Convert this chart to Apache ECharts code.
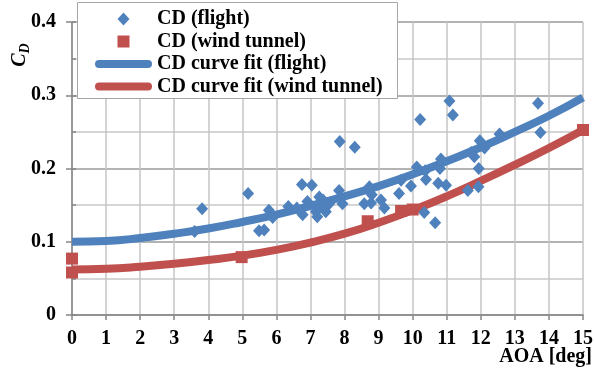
<!DOCTYPE html>
<html>
<head>
<meta charset="utf-8">
<script src="https://cdn.jsdelivr.net/npm/echarts@6/dist/echarts.min.js"></script>
<style>html,body{margin:0;padding:0;background:#fff}#c{width:594px;height:374px}</style>
</head>
<body>
<div id="c"></div>
<script>
// Flight-test CD points: [AOA deg, CD]
const flightAOA = [3.60,3.82,5.17,5.49,5.64,5.78,5.89,6.35,6.75,7.04,6.60,6.77,6.91,7.16,7.20,7.26,7.37,7.45,7.30,7.55,7.84,7.86,7.94,8.30,8.58,8.73,8.80,8.78,9.07,9.17,9.60,9.66,9.95,10.12,10.22,10.34,10.37,10.39,10.66,10.75,10.80,10.83,10.98,11.08,11.18,11.62,11.72,11.81,11.93,11.94,11.97,12.11,12.55,13.68,13.75];
const flightCD  = [0.114,0.145,0.166,0.115,0.116,0.143,0.133,0.148,0.178,0.177,0.146,0.137,0.155,0.141,0.134,0.161,0.157,0.141,0.148,0.152,0.170,0.237,0.152,0.229,0.152,0.175,0.164,0.153,0.157,0.146,0.166,0.184,0.176,0.202,0.267,0.140,0.197,0.185,0.126,0.180,0.200,0.213,0.177,0.292,0.273,0.170,0.222,0.216,0.175,0.200,0.238,0.228,0.247,0.289,0.249];
// Wind-tunnel CD points
const tunnelAOA = [0,0,4.98,8.68,9.66,10.0,15];
const tunnelCD  = [0.077,0.058,0.079,0.128,0.142,0.144,0.2526];
// Curve fits read at integer AOA
const fitAOA = [0,1,2,3,4,5,6,7,8,9,10,11,12,13,14,15];
const fitFlight = [0.100,0.101,0.105,0.111,0.118,0.127,0.137,0.149,0.162,0.176,0.192,0.210,0.229,0.250,0.272,0.297];
const fitTunnel = [0.062,0.063,0.066,0.070,0.075,0.081,0.089,0.099,0.111,0.126,0.143,0.162,0.183,0.205,0.228,0.2526];

const seriesNames = ['CD (flight)','CD (wind tunnel)','CD curve fit (flight)','CD curve fit (wind tunnel)'];
const xTicks = [0,15,1];
const yTicks = [0,0.4,0.1];

const zip = (a,b) => a.map((v,i)=>[v,b[i]]);
const BLUE = '#4F81BD', RED = '#C0504D';
const FONT = 'Liberation Serif';
// legend icons padded to the full 57x13 item box so they are not stretched
const BOX = 'M0,0 L0.01,0 M57,13 L56.99,13 ';
const diamondIcon = 'path://' + BOX + 'M28.5,0 L34.5,6.5 L28.5,13 L22.5,6.5 Z';
const squareIcon  = 'path://' + BOX + 'M22.5,0.5 L34.5,0.5 L34.5,12.5 L22.5,12.5 Z';
const lineIcon    = 'path://' + BOX + 'M4,2.5 L53,2.5 A4,4 0 0 1 53,10.5 L4,10.5 A4,4 0 0 1 4,2.5 Z';

const chart = echarts.init(document.getElementById('c'), null, {renderer:'canvas'});
chart.setOption({
  animation:false,
  backgroundColor:'#fff',
  grid:{left:72, right:11, top:22, bottom:59, containLabel:false, outerBoundsMode:'none'},
  xAxis:{
    type:'value', min:xTicks[0], max:xTicks[1], interval:xTicks[2],
    name:'AOA [deg]', nameLocation:'end', nameGap:9, nameMoveOverlap:false,
    nameTextStyle:{fontFamily:FONT, fontWeight:'bold', fontSize:20, color:'#000', align:'right', verticalAlign:'top', padding:[32,0,0,0]},
    axisLine:{show:true, onZero:false, lineStyle:{color:'#868686', width:1.5}},
    axisTick:{show:true, length:5, lineStyle:{color:'#868686', width:1.5}},
    axisLabel:{fontFamily:FONT, fontWeight:'bold', fontSize:20, color:'#000', margin:14},
    splitLine:{show:true, lineStyle:{color:'#c4c4c4', width:1.5}}
  },
  yAxis:[{
    type:'value', min:yTicks[0], max:yTicks[1], interval:yTicks[2],
    axisLine:{show:true, onZero:false, lineStyle:{color:'#868686', width:1.5}},
    axisTick:{show:true, length:6, lineStyle:{color:'#868686', width:1.5}},
    axisLabel:{fontFamily:FONT, fontWeight:'bold', fontSize:20, color:'#000', margin:16},
    splitLine:{show:true, lineStyle:{color:'#9a9a9a', width:1.5}},
    minorSplitLine:{show:true, lineStyle:{color:'#c8c8c8', width:1.5}},
    minorTick:{show:false, splitNumber:2}
  },{
    type:'value', min:yTicks[0], max:yTicks[1], interval:yTicks[2]/2, position:'left',
    axisLine:{show:false}, axisLabel:{show:false}, splitLine:{show:false},
    axisTick:{show:true, inside:true, length:4, lineStyle:{color:'#868686', width:1.5}}
  }],
  legend:{
    orient:'vertical', left:95, top:9, padding:0, itemGap:2.5,
    itemWidth:57, itemHeight:13, z:20,
    textStyle:{fontFamily:FONT, fontWeight:'bold', fontSize:20, color:'#000', lineHeight:20},
    data:[
      {name:seriesNames[0], icon:diamondIcon},
      {name:seriesNames[1], icon:squareIcon},
      {name:seriesNames[2], icon:lineIcon},
      {name:seriesNames[3], icon:lineIcon}
    ]
  },
  graphic:[
    {type:'rect', z:15, shape:{x:77.5, y:2.5, width:320, height:96}, style:{fill:'#fff', stroke:'#a6a6a6', lineWidth:1}},
    {type:'text', z:15, x:20, y:55, rotation:Math.PI/2,
     style:{text:'{c|C}{d|D}', align:'center', verticalAlign:'middle',
       rich:{
         c:{fontFamily:FONT, fontStyle:'italic', fontWeight:'bold', fontSize:20, fill:'#000', lineHeight:24},
         d:{fontFamily:FONT, fontStyle:'italic', fontWeight:'bold', fontSize:14, fill:'#000', lineHeight:24, verticalAlign:'bottom', padding:[12,0,0,0]}
       }}}
  ],
  series:[
    {name:seriesNames[2], type:'line', data:zip(fitAOA,fitFlight), smooth:true, showSymbol:false, symbol:'none',
     lineStyle:{color:BLUE, width:8, cap:'butt'}, itemStyle:{color:BLUE}, z:2},
    {name:seriesNames[3], type:'line', data:zip(fitAOA,fitTunnel), smooth:true, showSymbol:false, symbol:'none',
     lineStyle:{color:RED, width:8, cap:'butt'}, itemStyle:{color:RED}, z:2},
    {name:seriesNames[0], type:'scatter', data:zip(flightAOA,flightCD), symbol:'diamond', symbolSize:[12,13],
     itemStyle:{color:BLUE, opacity:1}, z:3},
    {name:seriesNames[1], type:'scatter', data:zip(tunnelAOA,tunnelCD), symbol:'rect', symbolSize:12,
     itemStyle:{color:RED, opacity:1}, z:4}
  ]
});
</script>
</body>
</html>
